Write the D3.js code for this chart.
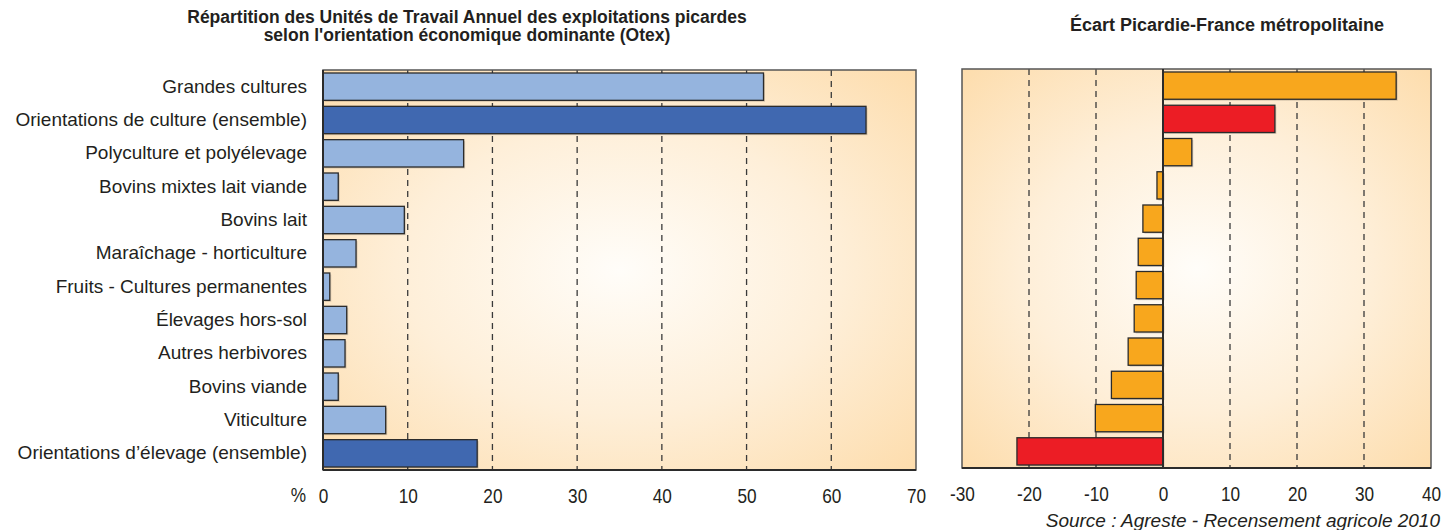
<!DOCTYPE html>
<html>
<head>
<meta charset="utf-8">
<script src="https://cdn.jsdelivr.net/npm/d3@7"></script>
<style>
  body { margin: 0; background: #fff; }
  svg text { fill: #231f20; font-family: "Liberation Sans", Arial, sans-serif; }
</style>
</head>
<body>
<svg id="chart"></svg>
<script>
const categories = [
  'Grandes cultures',
  'Orientations de culture (ensemble)',
  'Polyculture et polyélevage',
  'Bovins mixtes lait viande',
  'Bovins lait',
  'Maraîchage - horticulture',
  'Fruits - Cultures permanentes',
  'Élevages hors-sol',
  'Autres herbivores',
  'Bovins viande',
  'Viticulture',
  'Orientations d\u2019élevage (ensemble)'
];
// total rows (ensemble) drawn darker / red
const totals = ['Orientations de culture (ensemble)', 'Orientations d\u2019élevage (ensemble)'];

const utaShare = [52.0, 64.1, 16.6, 1.8, 9.6, 3.9, 0.8, 2.8, 2.6, 1.8, 7.4, 18.2];
const ecartFrance = [34.8, 16.7, 4.3, -0.9, -3.0, -3.7, -4.0, -4.3, -5.2, -7.7, -10.1, -21.8];

const leftTicks = [0, 10, 20, 30, 40, 50, 60, 70];
const rightTicks = [-30, -20, -10, 0, 10, 20, 30, 40];

const leftTitle = ['Répartition des Unités de Travail Annuel des exploitations picardes',
                   'selon l\'orientation économique dominante (Otex)'];
const rightTitle = 'Écart Picardie-France métropolitaine';
const source = 'Source : Agreste - Recensement agricole 2010';

const W = 1444, H = 530;
const svg = d3.select('#chart').attr('width', W).attr('height', H);

const defs = svg.append('defs');
const grad = defs.append('radialGradient').attr('id', 'bg')
  .attr('cx', '50%').attr('cy', '50%').attr('r', '72%');
grad.append('stop').attr('offset', '0%').attr('stop-color', '#fffdf9');
grad.append('stop').attr('offset', '50%').attr('stop-color', '#feefd9');
grad.append('stop').attr('offset', '100%').attr('stop-color', '#fddcab');

const leftData = categories.map((c, i) => ({cat: c, v: utaShare[i]}));
const rightData = categories.map((c, i) => ({cat: c, v: ecartFrance[i]}));

function panel(data, x0, x1, y0, y1, domain, ticks, colorFn, showLabels) {
  const x = d3.scaleLinear().domain(domain).range([x0, x1]);
  const y = d3.scaleBand().domain(categories).range([y0, y1])
    .paddingInner(0.18).paddingOuter(0.09);
  const g = svg.append('g');

  g.append('rect')
    .attr('x', x0).attr('y', y0).attr('width', x1 - x0).attr('height', y1 - y0)
    .attr('fill', 'url(#bg)');

  // dashed grid
  g.selectAll('.grid')
    .data(ticks.filter(t => t !== domain[0] && t !== domain[1] && t !== 0))
    .enter().append('line')
    .attr('x1', d => x(d)).attr('x2', d => x(d))
    .attr('y1', y0).attr('y2', y1)
    .attr('stroke', '#3a3a3a').attr('stroke-width', 1.3)
    .attr('stroke-dasharray', '6,5');

  const z = Math.max(domain[0], 0);
  // bar shadows
  g.selectAll('.shadow').data(data).enter().append('rect')
    .attr('x', d => Math.min(x(d.v), x(z)) + 1.5)
    .attr('y', d => y(d.cat) + 1.5)
    .attr('width', d => Math.abs(x(d.v) - x(z)))
    .attr('height', y.bandwidth())
    .attr('fill', '#000').attr('opacity', 0.15);

  g.selectAll('.bar').data(data).enter().append('rect')
    .attr('x', d => Math.min(x(d.v), x(z)))
    .attr('y', d => y(d.cat))
    .attr('width', d => Math.abs(x(d.v) - x(z)))
    .attr('height', y.bandwidth())
    .attr('fill', d => colorFn(d))
    .attr('stroke', '#2b2b2b').attr('stroke-width', 1.3);

  // frame
  g.append('rect')
    .attr('x', x0).attr('y', y0).attr('width', x1 - x0).attr('height', y1 - y0)
    .attr('fill', 'none').attr('stroke', '#555').attr('stroke-width', 1.5);
  g.append('line')
    .attr('x1', x(z)).attr('x2', x(z)).attr('y1', y0).attr('y2', y1)
    .attr('stroke', '#2b2b2b').attr('stroke-width', 2);
  g.append('line')
    .attr('x1', x0).attr('x2', x1).attr('y1', y1).attr('y2', y1)
    .attr('stroke', '#2b2b2b').attr('stroke-width', 2);

  const xAxis = g.append('g')
    .attr('transform', `translate(0,${y1})`)
    .call(d3.axisBottom(x).tickValues(ticks).tickFormat(d => String(d))
      .tickSize(0).tickPadding(18));
  xAxis.select('.domain').remove();
  xAxis.selectAll('text')
    .style('font-size', '21px').attr('fill', '#231f20')
    .attr('transform', 'scale(0.82,1)');

  if (showLabels) {
    const yAxis = g.append('g')
      .attr('transform', `translate(${x0},0)`)
      .call(d3.axisLeft(y).tickSize(0).tickPadding(16));
    yAxis.select('.domain').remove();
    yAxis.selectAll('text').style('font-size', '19px').attr('fill', '#231f20');
  }
  return x;
}

const xl = panel(leftData, 323, 916, 70, 470, [0, 70], leftTicks,
  d => totals.includes(d.cat) ? '#4068b0' : '#95b4de', true);
panel(rightData, 962, 1431, 69, 468, [-30, 40], rightTicks,
  d => totals.includes(d.cat) ? '#ec1d25' : '#f8a71d', false);

svg.append('g')
  .attr('transform', `translate(${xl(0) - 17},502) scale(0.82,1)`)
  .append('text')
  .attr('text-anchor', 'end')
  .style('font-size', '21px')
  .text('%');

svg.append('text')
  .attr('y', 23)
  .attr('text-anchor', 'middle')
  .style('font-size', '17.5px').style('font-weight', 'bold')
  .selectAll('tspan').data(leftTitle).enter().append('tspan')
  .attr('x', 467).attr('dy', (d, i) => i === 0 ? 0 : 18)
  .text(d => d);

svg.append('text')
  .attr('x', 1227).attr('y', 31)
  .attr('text-anchor', 'middle')
  .style('font-size', '18px').style('font-weight', 'bold')
  .text(rightTitle);

svg.append('text')
  .attr('x', 1440).attr('y', 527)
  .attr('text-anchor', 'end')
  .style('font-size', '19px').style('font-style', 'italic')
  .text(source);
</script>
</body>
</html>
